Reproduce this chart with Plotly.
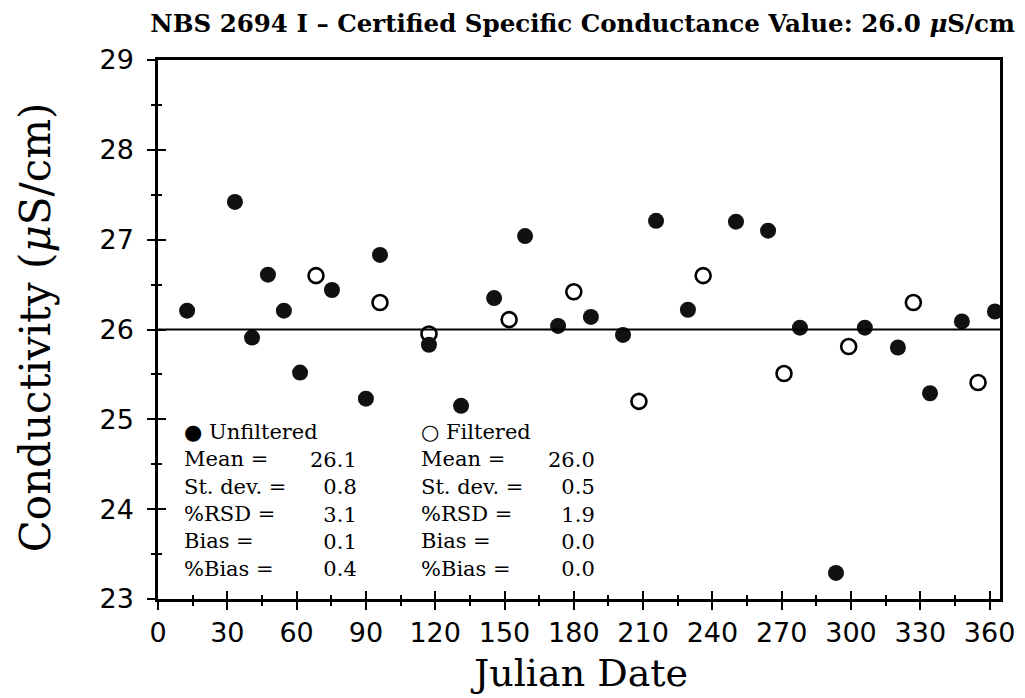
import plotly.graph_objects as go

# ---------------- data ----------------
unfiltered_day = [12.6, 33.3, 40.7, 47.6, 54.5, 61.5, 75.3, 90.0, 96.1, 117.3, 131.2, 145.5,
                  158.9, 173.2, 187.4, 201.3, 215.6, 229.4, 250.2, 264.1, 277.9, 293.5,
                  306.0, 320.3, 334.2, 348.0, 362.3]
unfiltered_val = [26.21, 27.42, 25.91, 26.61, 26.21, 25.52, 26.44, 25.23, 26.83, 25.83, 25.15, 26.35,
                  27.04, 26.04, 26.14, 25.94, 27.21, 26.22, 27.20, 27.10, 26.02, 23.29,
                  26.02, 25.80, 25.29, 26.09, 26.20]

filtered_day = [68.4, 96.1, 117.3, 152.0, 180.0, 208.2, 236.0, 271.0, 299.0, 327.0, 355.0]
filtered_val = [26.60, 26.30, 25.95, 26.11, 26.42, 25.20, 26.60, 25.51, 25.81, 26.30, 25.41]

certified_value = 26.0
title_text = "NBS 2694 I – Certified Specific Conductance Value: 26.0 <i>μ</i>S/cm"
y_title = "Conductivity (<i>μ</i>S/cm)"
x_title = "Julian Date"

x_tickvals = [0, 30, 60, 90, 120, 150, 180, 210, 240, 270, 300, 330, 360]
x_ticktext = ["0", "30", "60", "90", "120", "150", "180", "210", "240", "270", "300", "330", "360"]
y_tickvals = [23, 24, 25, 26, 27, 28, 29]
y_ticktext = ["23", "24", "25", "26", "27", "28", "29"]

stat_labels = ["Mean =", "St. dev. =", "%RSD =", "Bias =", "%Bias ="]
unfiltered_stats = ["26.1", "0.8", "3.1", "0.1", "0.4"]
filtered_stats = ["26.0", "0.5", "1.9", "0.0", "0.0"]
series_names = ["● Unfiltered", "○ Filtered"]

# ---------------- figure ----------------
# the page body adds an 8px offset; figure is sized so the page matches 1025x698
FIG_W, FIG_H = 1017, 690
X_RANGE = [0, 364.5]
Y_RANGE = [23, 29]
SERIF = "DejaVu Serif"
SANS = "DejaVu Sans"

fig = go.Figure()

fig.add_trace(go.Scatter(
    x=filtered_day, y=filtered_val, mode="markers", name="Filtered",
    marker=dict(symbol="circle-open", size=15, color="black", line=dict(width=2.6, color="black")),
    showlegend=False))
fig.add_trace(go.Scatter(
    x=unfiltered_day, y=unfiltered_val, mode="markers", name="Unfiltered",
    marker=dict(symbol="circle", size=16, color="#111111", line=dict(width=0)),
    showlegend=False))
# empty trace to activate overlay axes (inner half of crossing ticks)
fig.add_trace(go.Scatter(x=[], y=[], xaxis="x2", yaxis="y2", showlegend=False, hoverinfo="skip"))

fig.add_hline(y=certified_value, line=dict(color="black", width=2.2), layer="above")

tick_font = dict(family=SANS, size=27, color="black")
common = dict(showgrid=False, zeroline=False, color="black", automargin=False)

fig.update_layout(
    width=FIG_W, height=FIG_H,
    margin=dict(l=150, r=25, t=52, b=99),
    paper_bgcolor="white", plot_bgcolor="white",
    title=dict(text=title_text, x=0.565, xanchor="center", y=0.978, yanchor="middle",
               font=dict(family=SERIF, size=24.5, color="black", weight="bold")),
    xaxis=dict(range=X_RANGE, tickmode="array", tickvals=x_tickvals, ticktext=x_ticktext,
               ticks="outside", ticklen=8, tickwidth=2, tickcolor="black",
               minor=dict(dtick=15, tick0=0, ticks="outside", ticklen=4, tickwidth=2, tickcolor="black"),
               showline=True, linewidth=2.5, linecolor="black", mirror=True,
               tickfont=tick_font, ticklabelstandoff=0,
               **common),
    yaxis=dict(range=Y_RANGE, tickmode="array", tickvals=y_tickvals, ticktext=y_ticktext,
               ticks="outside", ticklen=8, tickwidth=2, tickcolor="black",
               minor=dict(dtick=0.5, tick0=23, ticks="outside", ticklen=4, tickwidth=2, tickcolor="black"),
               showline=True, linewidth=2.5, linecolor="black", mirror=True,
               tickfont=tick_font, ticklabelstandoff=8,
               **common),
    xaxis2=dict(range=X_RANGE, overlaying="x", anchor="y2", side="bottom", tickmode="array",
                tickvals=x_tickvals, ticks="inside", ticklen=8, tickwidth=2, tickcolor="black",
                minor=dict(dtick=15, tick0=0, ticks="inside", ticklen=4, tickwidth=2, tickcolor="black"),
                showticklabels=False, showline=False, **common),
    yaxis2=dict(range=Y_RANGE, overlaying="y", anchor="x2", side="left", tickmode="array",
                tickvals=y_tickvals, ticks="inside", ticklen=8, tickwidth=2, tickcolor="black",
                minor=dict(dtick=0.5, tick0=23, ticks="inside", ticklen=4, tickwidth=2, tickcolor="black"),
                showticklabels=False, showline=False, **common),
)

# axis titles as annotations (precise placement)
fig.add_annotation(x=-0.1455, y=0.505, xref="paper", yref="paper", text=y_title, textangle=-90,
                   showarrow=False, xanchor="center", yanchor="middle",
                   font=dict(family=SERIF, size=42, color="black"))
fig.add_annotation(x=0.5, y=-0.137, xref="paper", yref="paper", text=x_title,
                   showarrow=False, xanchor="center", yanchor="middle",
                   font=dict(family=SERIF, size=38, color="black"))

# ---------------- statistics block ----------------
STAT_FONT = dict(family=SERIF, size=21, color="black")
block_bottom_y = 23.19
columns = [
    (10.8, 86.6, series_names[0], unfiltered_stats),
    (113.4, 189.6, series_names[1], filtered_stats),
]
for left_x, right_x, name, stats in columns:
    fig.add_annotation(x=left_x, y=block_bottom_y, xref="x", yref="y",
                       text="<br>".join([name] + stat_labels), showarrow=False, align="left",
                       xanchor="left", yanchor="bottom", font=STAT_FONT, borderpad=0)
    fig.add_annotation(x=right_x, y=block_bottom_y, xref="x", yref="y",
                       text="<br>".join(stats), showarrow=False, align="right",
                       xanchor="right", yanchor="bottom", font=STAT_FONT, borderpad=0)

fig.write_html("out.html")
